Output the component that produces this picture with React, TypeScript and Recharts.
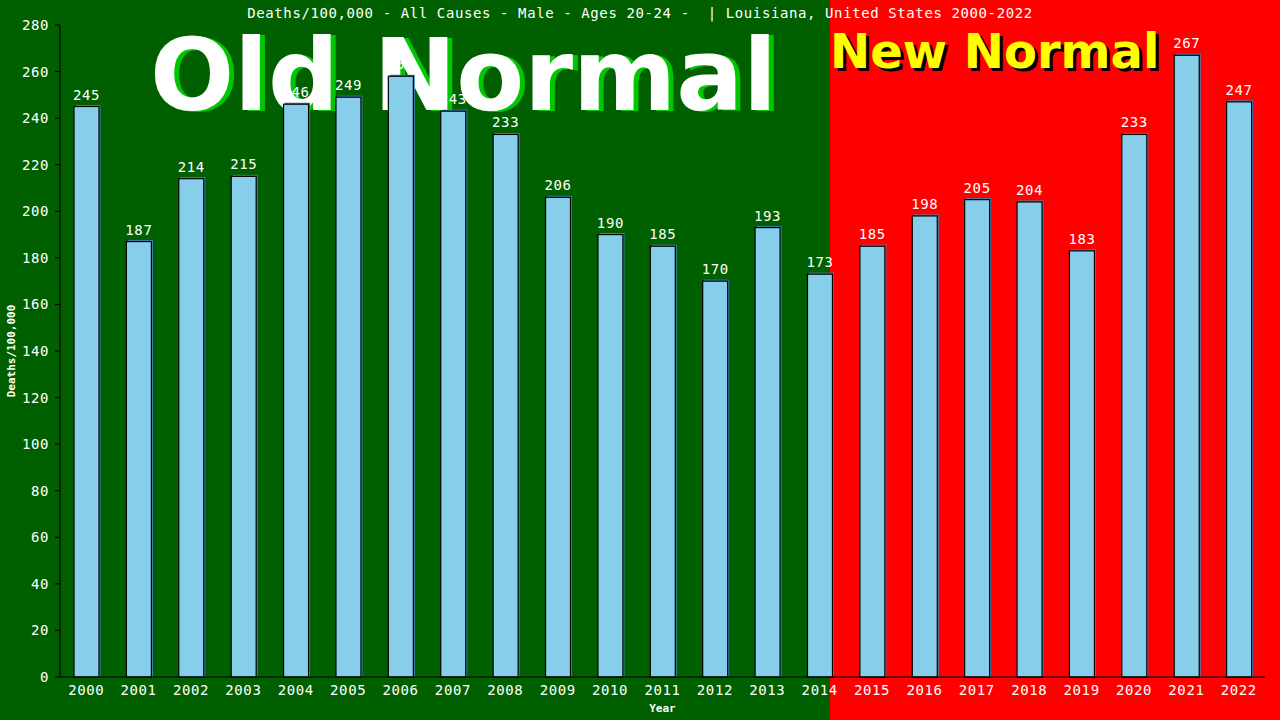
import React from "react";
import { BarChart, Bar, XAxis, YAxis, LabelList } from "recharts";

const years = ["2000","2001","2002","2003","2004","2005","2006","2007","2008","2009","2010","2011","2012","2013","2014","2015","2016","2017","2018","2019","2020","2021","2022"];
const deaths = [245,187,214,215,246,249,258,243,233,206,190,185,170,193,173,185,198,205,204,183,233,267,247];
const yTicks = [0,20,40,60,80,100,120,140,160,180,200,220,240,260,280];

const title = "Deaths/100,000 - All Causes - Male - Ages 20-24 -  | Louisiana, United States 2000-2022";

const data = years.map((y, i) => ({ year: y, value: deaths[i] }));

const MONO = "'DejaVu Sans Mono', monospace";

const BarShape = (props: any) => {
  const { x, y, width, height } = props;
  if (height <= 0) return null;
  return (
    <g>
      <rect x={x + 1.5} y={y - 1.5} width={width} height={height + 1.5} fill="#4682b4" />
      <rect x={x} y={y} width={width} height={height} fill="#87ceeb" stroke="#000" strokeWidth={1.2} />
    </g>
  );
};

export default function App() {
  return (
    <div style={{ position: "fixed", left: 0, top: 0, width: 1280, height: 720, background: "linear-gradient(to right, #006000 0px, #006000 830px, #ff0000 830px, #ff0000 1280px)", overflow: "hidden" }}>
      <svg width={1280} height={720} style={{ position: "absolute", left: 0, top: 0, zIndex: 0 }}>
        <text x={155} y={111} fontFamily="'DejaVu Sans', sans-serif" fontWeight="bold" fontSize={99} fill="#00c800">Old Normal</text>
        <text x={150} y={110} fontFamily="'DejaVu Sans', sans-serif" fontWeight="bold" fontSize={99} fill="#ffffff">Old Normal</text>
        <text x={833} y={71} fontFamily="'DejaVu Sans', sans-serif" fontWeight="bold" fontSize={48} fill="#000000">New Normal</text>
        <text x={830} y={68} fontFamily="'DejaVu Sans', sans-serif" fontWeight="bold" fontSize={48} fill="#ffff00">New Normal</text>
        <text x={640} y={18} textAnchor="middle" fontFamily={MONO} fontSize={14} letterSpacing={0.6} fill="#ffffff" style={{ whiteSpace: "pre" }}>{title}</text>
      </svg>
      <div style={{ position: "absolute", left: 0, top: 0, zIndex: 1 }}>
        <BarChart width={1280} height={720} data={data} margin={{ top: 25, right: 15, left: 0, bottom: 0 }}>
          <XAxis
            dataKey="year"
            height={43}
            tickLine={false}
            axisLine={{ stroke: "#000", strokeWidth: 1.2 }}
            tick={{ fill: "#fff", fontFamily: MONO, fontSize: 14, letterSpacing: 0.6 }}
            tickMargin={2}
            interval={0}
            label={{ value: "Year", position: "insideBottom", offset: 8, fill: "#fff", fontFamily: MONO, fontSize: 11, fontWeight: "bold" }}
          />
          <YAxis
            yAxisId="left"
            width={60}
            domain={[0, 280]}
            ticks={yTicks}
            tickSize={5}
            tickMargin={6}
            tickLine={{ stroke: "#000", strokeWidth: 1.2 }}
            axisLine={{ stroke: "#000", strokeWidth: 1.2 }}
            tick={{ fill: "#fff", fontFamily: MONO, fontSize: 14, letterSpacing: 0.6 }}
            label={{ value: "Deaths/100,000", angle: -90, position: "insideLeft", offset: 11, fill: "#fff", fontFamily: MONO, fontSize: 11, fontWeight: "bold", style: { textAnchor: "middle" } }}
          />
          <YAxis
            yAxisId="right"
            orientation="right"
            width={0}
            domain={[0, 280]}
            tick={false}
            tickLine={false}
            axisLine={{ stroke: "#000", strokeWidth: 1.2 }}
          />
          <Bar yAxisId="left" dataKey="value" barSize={25} shape={<BarShape />} isAnimationActive={false}>
            <LabelList dataKey="value" position="top" offset={7} fill="#fff" fontFamily={MONO} fontSize={14} letterSpacing={0.6} />
          </Bar>
        </BarChart>
      </div>
    </div>
  );
}
